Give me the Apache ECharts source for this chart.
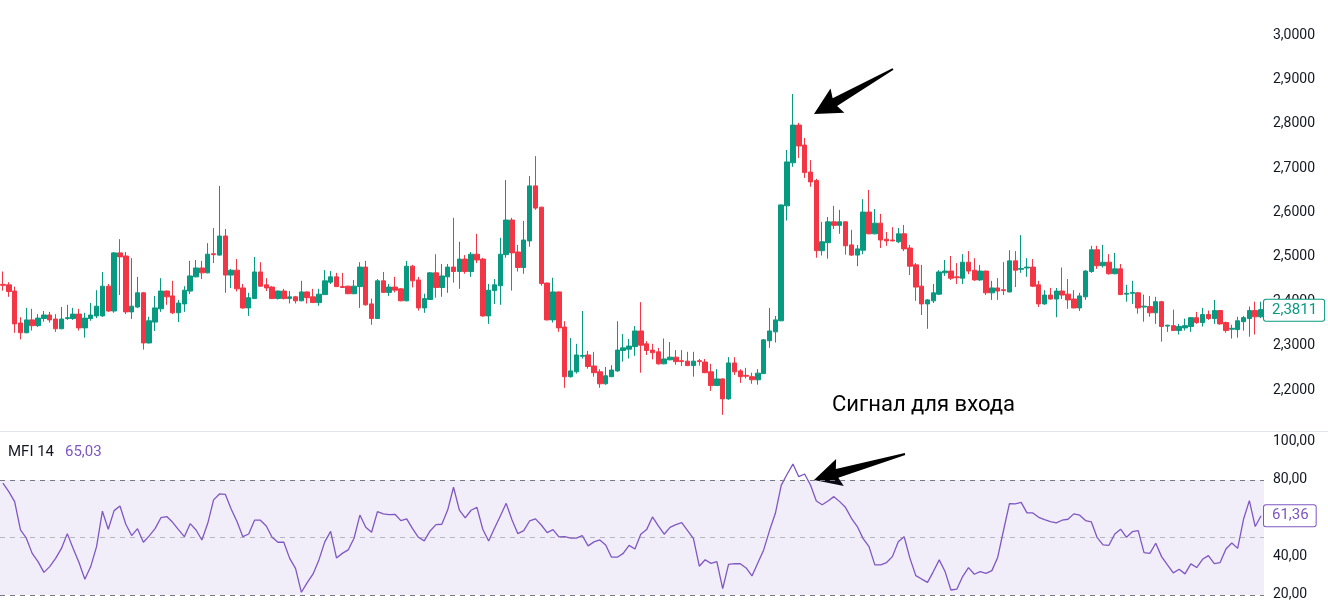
<!DOCTYPE html>
<html><head><meta charset="utf-8">
<script src="https://cdn.jsdelivr.net/npm/echarts@6/dist/echarts.min.js"></script>
<style>html,body{margin:0;padding:0;background:#fff}#c{width:1328px;height:601px}</style>
</head><body><div id="c"></div>
<script>
const opens=[2.438,2.437,2.423,2.351,2.329,2.358,2.345,2.361,2.369,2.360,2.338,2.361,2.361,2.371,2.340,2.361,2.367,2.367,2.434,2.378,
2.509,2.502,2.376,2.387,2.419,2.306,2.353,2.383,2.423,2.412,2.374,2.394,2.423,2.455,2.475,2.464,2.507,2.504,2.547,2.459,
2.470,2.430,2.385,2.406,2.466,2.437,2.432,2.406,2.423,2.406,2.410,2.401,2.421,2.410,2.397,2.415,2.443,2.455,2.433,2.434,
2.417,2.433,2.477,2.394,2.361,2.446,2.420,2.432,2.428,2.401,2.479,2.448,2.385,2.404,2.464,2.431,2.455,2.477,2.467,2.495,
2.467,2.506,2.495,2.367,2.424,2.435,2.505,2.583,2.511,2.476,2.536,2.660,2.612,2.441,2.358,2.421,2.342,2.230,2.241,2.276,
2.279,2.254,2.241,2.214,2.230,2.243,2.289,2.292,2.298,2.333,2.304,2.290,2.286,2.259,2.268,2.274,2.266,2.265,2.255,2.266,
2.263,2.241,2.210,2.225,2.180,2.261,2.243,2.233,2.230,2.223,2.237,2.311,2.331,2.356,2.615,2.712,2.797,2.752,2.691,2.672,
2.514,2.532,2.579,2.571,2.579,2.527,2.504,2.515,2.601,2.552,2.576,2.540,2.538,2.534,2.552,2.520,2.482,2.434,2.394,2.401,
2.416,2.464,2.468,2.455,2.452,2.488,2.470,2.448,2.468,2.419,2.430,2.426,2.421,2.491,2.472,2.475,2.477,2.437,2.394,2.414,
2.405,2.423,2.416,2.405,2.385,2.410,2.467,2.516,2.480,2.488,2.462,2.473,2.416,2.418,2.419,2.387,2.388,2.374,2.399,2.344,
2.345,2.334,2.340,2.343,2.363,2.352,2.370,2.361,2.379,2.352,2.337,2.336,2.354,2.361,2.379,2.365];
const closes=[2.436,2.422,2.349,2.329,2.358,2.345,2.362,2.369,2.358,2.338,2.360,2.363,2.371,2.340,2.362,2.369,2.389,2.434,2.378,2.509,
2.500,2.376,2.389,2.419,2.306,2.356,2.385,2.423,2.410,2.374,2.396,2.425,2.457,2.475,2.464,2.506,2.505,2.547,2.459,2.470,
2.428,2.385,2.408,2.466,2.434,2.430,2.406,2.423,2.406,2.410,2.401,2.421,2.408,2.397,2.416,2.446,2.455,2.433,2.431,2.417,
2.434,2.477,2.392,2.361,2.446,2.420,2.432,2.425,2.401,2.479,2.446,2.385,2.406,2.464,2.431,2.457,2.477,2.467,2.495,2.467,
2.506,2.493,2.367,2.425,2.437,2.506,2.583,2.509,2.476,2.538,2.660,2.610,2.440,2.358,2.421,2.340,2.230,2.243,2.279,2.278,
2.253,2.239,2.214,2.232,2.245,2.290,2.295,2.299,2.333,2.301,2.289,2.284,2.259,2.270,2.274,2.264,2.264,2.255,2.265,2.264,
2.239,2.210,2.225,2.180,2.261,2.241,2.230,2.231,2.223,2.238,2.313,2.333,2.358,2.617,2.714,2.797,2.750,2.690,2.669,2.514,
2.534,2.579,2.571,2.579,2.525,2.504,2.518,2.601,2.552,2.576,2.538,2.536,2.536,2.552,2.518,2.479,2.432,2.394,2.403,2.419,
2.466,2.468,2.452,2.453,2.488,2.468,2.448,2.468,2.419,2.430,2.423,2.424,2.491,2.470,2.474,2.477,2.434,2.394,2.414,2.405,
2.423,2.414,2.403,2.385,2.412,2.468,2.516,2.480,2.488,2.462,2.473,2.415,2.418,2.420,2.385,2.389,2.374,2.399,2.343,2.346,
2.334,2.343,2.345,2.363,2.352,2.370,2.361,2.379,2.349,2.334,2.339,2.356,2.363,2.379,2.365,2.3811];
const lows=[2.424,2.410,2.329,2.314,2.328,2.334,2.342,2.354,2.352,2.331,2.337,2.358,2.358,2.334,2.318,2.356,2.362,2.365,2.376,2.374,
2.414,2.371,2.360,2.385,2.291,2.305,2.333,2.376,2.392,2.371,2.353,2.376,2.416,2.454,2.450,2.463,2.486,2.503,2.419,2.430,
2.422,2.383,2.367,2.405,2.433,2.423,2.405,2.404,2.404,2.395,2.395,2.400,2.395,2.396,2.390,2.414,2.439,2.432,2.430,2.416,
2.416,2.385,2.390,2.347,2.360,2.419,2.412,2.420,2.400,2.400,2.431,2.379,2.374,2.403,2.408,2.410,2.419,2.442,2.428,2.462,
2.455,2.486,2.365,2.349,2.394,2.392,2.498,2.424,2.467,2.462,2.523,2.606,2.435,2.357,2.352,2.331,2.205,2.228,2.237,2.271,
2.248,2.230,2.205,2.212,2.229,2.241,2.264,2.271,2.277,2.239,2.279,2.269,2.257,2.258,2.267,2.257,2.254,2.254,2.230,2.255,
2.238,2.198,2.209,2.144,2.178,2.234,2.216,2.226,2.214,2.212,2.236,2.295,2.307,2.355,2.582,2.703,2.723,2.678,2.658,2.498,
2.503,2.496,2.563,2.552,2.505,2.502,2.479,2.506,2.551,2.551,2.520,2.525,2.535,2.531,2.513,2.459,2.401,2.369,2.338,2.396,
2.414,2.457,2.448,2.439,2.439,2.461,2.446,2.446,2.414,2.403,2.403,2.414,2.420,2.432,2.464,2.455,2.432,2.387,2.392,2.404,
2.364,2.405,2.383,2.384,2.378,2.403,2.464,2.473,2.476,2.460,2.461,2.414,2.399,2.394,2.372,2.354,2.365,2.349,2.309,2.331,
2.333,2.325,2.334,2.331,2.349,2.343,2.358,2.349,2.347,2.329,2.316,2.318,2.334,2.320,2.325,2.362];
const highs=[2.467,2.443,2.433,2.364,2.385,2.383,2.371,2.378,2.376,2.371,2.387,2.392,2.385,2.383,2.374,2.396,2.425,2.466,2.439,2.511,
2.540,2.511,2.497,2.455,2.421,2.365,2.412,2.452,2.424,2.446,2.403,2.434,2.491,2.493,2.491,2.531,2.565,2.660,2.563,2.473,
2.495,2.439,2.419,2.500,2.488,2.452,2.434,2.424,2.428,2.423,2.412,2.446,2.422,2.428,2.428,2.470,2.468,2.464,2.464,2.435,
2.448,2.488,2.491,2.406,2.450,2.466,2.439,2.455,2.430,2.491,2.482,2.455,2.417,2.466,2.506,2.484,2.484,2.588,2.534,2.504,
2.511,2.552,2.498,2.439,2.450,2.543,2.673,2.588,2.527,2.581,2.682,2.727,2.613,2.442,2.453,2.422,2.355,2.317,2.304,2.378,
2.288,2.286,2.247,2.252,2.256,2.355,2.326,2.315,2.344,2.398,2.310,2.304,2.295,2.316,2.308,2.290,2.290,2.286,2.286,2.270,
2.270,2.259,2.247,2.226,2.274,2.274,2.247,2.250,2.239,2.247,2.315,2.385,2.367,2.618,2.741,2.867,2.802,2.768,2.718,2.676,
2.579,2.590,2.615,2.606,2.580,2.561,2.527,2.630,2.651,2.608,2.597,2.556,2.567,2.565,2.572,2.527,2.486,2.482,2.405,2.439,
2.470,2.493,2.502,2.486,2.506,2.513,2.497,2.482,2.469,2.446,2.452,2.488,2.515,2.513,2.549,2.497,2.495,2.446,2.425,2.430,
2.430,2.476,2.450,2.425,2.419,2.470,2.525,2.525,2.527,2.506,2.509,2.484,2.437,2.446,2.421,2.415,2.412,2.410,2.401,2.347,
2.381,2.349,2.361,2.364,2.376,2.385,2.379,2.403,2.380,2.354,2.347,2.365,2.367,2.388,2.399,2.399];
const mfi=[78.3,73.9,68.7,53.9,49.6,41.7,37.4,31.8,34.8,39.1,44.3,52.0,44.3,36.9,28.2,34.8,45.2,63.7,54.3,64.0,
66.4,56.9,51.0,54.6,47.5,50.8,54.6,60.3,60.9,57.9,54.1,50.4,57.2,53.9,48.7,57.4,69.6,72.7,72.5,64.9,
58.3,50.4,51.8,59.0,59.0,56.0,50.1,47.5,47.5,39.1,33.9,21.4,26.4,31.0,38.3,47.7,53.2,39.3,41.7,43.5,
49.6,61.7,55.3,52.7,63.5,62.3,61.9,62.1,58.8,59.7,54.6,50.1,48.2,53.4,56.7,
56.9,64.3,76.2,64.3,60.2,64.2,65.7,54.3,48.2,54.8,61.2,67.8,59.1,52.0,53.6,58.6,59.7,56.5,52.5,54.1,
50.3,50.4,49.7,49.7,51.0,45.6,47.7,48.7,46.1,39.7,39.7,41.7,45.9,44.0,51.7,54.1,60.7,56.0,51.7,55.3,
56.7,57.7,53.6,49.4,35.0,38.4,36.5,37.4,23.3,36.0,36.3,36.3,34.1,29.9,36.7,43.5,53.6,62.6,77.2,83.0,
88.3,81.7,83.1,77.4,69.0,67.1,69.0,71.3,68.7,65.6,60.0,55.7,49.4,45.2,
35.7,35.7,36.9,40.0,47.8,50.4,39.1,30.1,28.3,26.6,32.2,38.3,32.2,22.6,23.0,29.6,34.3,30.8,32.2,31.3,
32.7,39.7,53.9,67.7,67.5,68.3,62.8,62.8,60.5,59.3,58.3,57.6,59.0,59.5,62.3,61.6,58.8,58.1,49.9,46.1,
45.9,51.8,54.3,50.1,53.0,53.6,42.1,41.7,47.0,40.0,35.7,31.5,33.4,31.0,36.2,34.3,38.6,40.5,36.3,36.9,
44.0,47.1,44.3,59.5,69.2,55.7,61.36];
const lastPrice=2.3811;
const lastMfi=61.36;
const mfiLegendName='MFI 14';
const mfiLegendValue='65,03';
const noteText='Сигнал для входа';
const mfiLevels=[80,50,20];

const categories=opens.map((_,i)=>String(i+1));
const candles=opens.map((o,i)=>[o,closes[i],lows[i],highs[i]]);

const UP='#089981',DOWN='#f23645',PURPLE='#7e57c2',TXT='#131722';
const FONT='Roboto, "Open Sans", sans-serif';
const fmtDec=(v,d)=>v.toFixed(d).replace('.',',');

function arrow(tx,ty,px,py){
  const dx=px-tx,dy=py-ty,L=Math.hypot(dx,dy),ux=dx/L,uy=dy/L,nx=-uy,ny=ux;
  const hl=24,hw=14,sw=4.5,tw=1;
  const bx=px-ux*hl,by=py-uy*hl;
  return [[tx+nx*tw,ty+ny*tw],[bx+nx*sw,by+ny*sw],[bx-ux*3+nx*hw,by-uy*3+ny*hw],[px,py],[bx-ux*3-nx*hw,by-uy*3-ny*hw],[bx-nx*sw,by-ny*sw],[tx-nx*tw,ty-ny*tw]];
}

const chart=echarts.init(document.getElementById('c'),null,{renderer:'canvas'});
const tagLabel=(col)=>({show:true,position:'end',distance:0,color:col,fontSize:15,fontFamily:FONT,
  backgroundColor:'#ffffff',borderColor:col,borderWidth:1,borderRadius:2,padding:[3,7,3,8]});
const HIDDEN={color:'rgba(0,0,0,0)',width:0};
chart.setOption({
  animation:false,
  backgroundColor:'#ffffff',
  grid:[{left:0,right:64,top:-9.375,height:443.75,outerBoundsMode:'none',containLabel:false},
        {left:0,right:64,top:403.3,height:230,outerBoundsMode:'none',containLabel:false}],
  xAxis:[{type:'category',data:categories,gridIndex:0,show:false},
         {type:'category',data:categories,gridIndex:1,show:false}],
  yAxis:[{gridIndex:0,position:'right',min:2.1,max:3.1,interval:0.1,splitLine:{show:false},axisLine:{show:false},axisTick:{show:false},
          axisLabel:{margin:9,color:TXT,fontSize:14,fontFamily:FONT,formatter:v=>(v<2.15||v>3.05)?'':fmtDec(v,4)}},
         {gridIndex:1,position:'right',min:0,max:120,interval:20,splitLine:{show:false},axisLine:{show:false},axisTick:{show:false},
          axisLabel:{margin:9,color:TXT,fontSize:14,fontFamily:FONT,formatter:v=>{const r=Math.round(v);return (r===0||r===120||r===60)?'':fmtDec(v,2);}}}],
  series:[
    {type:'candlestick',xAxisIndex:0,yAxisIndex:0,data:candles,barWidth:5,
     itemStyle:{color:UP,color0:DOWN,borderColor:UP,borderColor0:DOWN,borderWidth:1},
     markLine:{silent:true,symbol:['none','none'],
       data:[{yAxis:lastPrice,lineStyle:HIDDEN,label:Object.assign(tagLabel(UP),{formatter:fmtDec(lastPrice,4)})}]}},
    {type:'line',xAxisIndex:1,yAxisIndex:1,data:mfi,symbol:'none',showSymbol:false,
     lineStyle:{color:PURPLE,width:1.3},
     markArea:{silent:true,itemStyle:{color:'rgba(126,87,194,0.1)'},data:[[{yAxis:mfiLevels[0]},{yAxis:mfiLevels[2]}]]},
     markLine:{silent:true,symbol:['none','none'],
       data:[
        {yAxis:mfiLevels[0],lineStyle:{color:'#787b86',type:[5,5],width:1},label:{show:false}},
        {yAxis:mfiLevels[1],lineStyle:{color:'rgba(120,123,134,0.5)',type:[5,5],width:1},label:{show:false}},
        {yAxis:mfiLevels[2],lineStyle:{color:'#787b86',type:[5,5],width:1},label:{show:false}},
        {yAxis:lastMfi,lineStyle:HIDDEN,label:Object.assign(tagLabel(PURPLE),{formatter:fmtDec(lastMfi,2)})}
       ]}}
  ],
  graphic:[
    {type:'line',shape:{x1:0,y1:431.5,x2:1328,y2:431.5},style:{stroke:'#e0e3eb',lineWidth:1},z:10},
    {type:'text',x:8,y:452,style:{text:mfiLegendName,fill:TXT,font:'15px '+FONT,textVerticalAlign:'middle',verticalAlign:'middle'}},
    {type:'text',x:65,y:452,style:{text:mfiLegendValue,fill:PURPLE,font:'15px '+FONT,textVerticalAlign:'middle',verticalAlign:'middle'}},
    {type:'text',x:832,y:405,style:{text:noteText,fill:'#000000',font:'22px '+FONT,textVerticalAlign:'middle',verticalAlign:'middle'}},
    {type:'polygon',shape:{points:arrow(893,69,814,114)},style:{fill:'#000000'}},
    {type:'polygon',shape:{points:arrow(905,454,814,480)},style:{fill:'#000000'}}
  ]
});
</script></body></html>
